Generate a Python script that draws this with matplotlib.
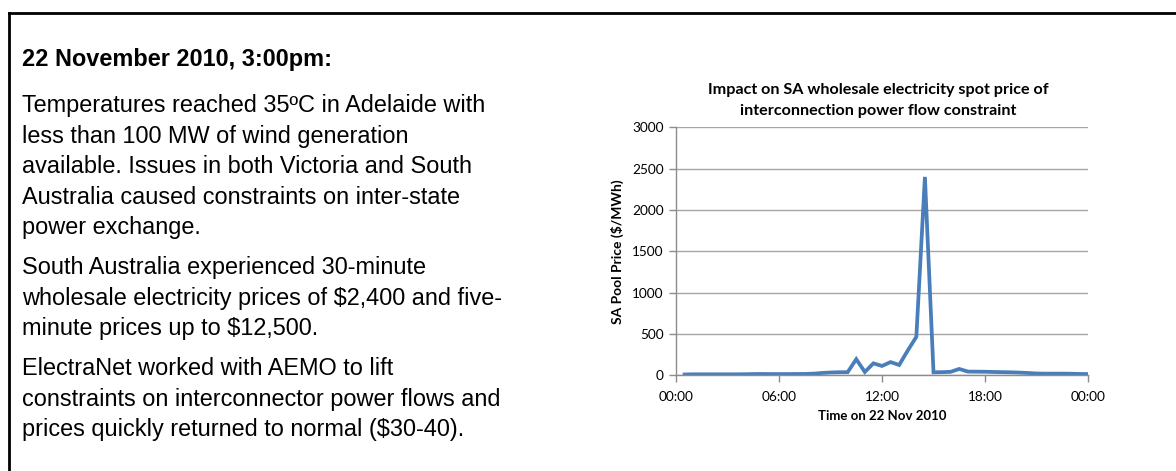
import matplotlib as mpl
mpl.use('Agg')
import matplotlib.pyplot as plt
import matplotlib.dates as mdates
import pandas as pd
from matplotlib.lines import Line2D

W, H = 1176, 471

# half-hourly SA pool price, 22 Nov 2010 ($/MWh), periods ending 00:30 .. 24:00
price = [10, 12, 12, 12, 12, 12, 12, 13, 15, 16, 15, 15,
         15, 16, 16, 20, 28, 34, 37, 38, 195, 40, 145, 113,
         160, 125, 300, 465, 2400, 36, 38, 42, 77, 45, 44, 43,
         40, 38, 36, 33, 28, 22, 20, 20, 20, 19, 16, 15]
times = pd.date_range('2010-11-22 00:30', periods=len(price), freq='30min')

heading = '22 November 2010, 3:00pm:'
paragraphs = [
    ['Temperatures reached 35\u00baC in Adelaide with',
     'less than 100 MW of wind generation',
     'available. Issues in both Victoria and South',
     'Australia caused constraints on inter-state',
     'power exchange.'],
    ['South Australia experienced 30-minute',
     'wholesale electricity prices of $2,400 and five-',
     'minute prices up to $12,500.'],
    ['ElectraNet worked with AEMO to lift',
     'constraints on interconnector power flows and',
     'prices quickly returned to normal ($30-40).'],
]

chart_title = ['Impact on SA wholesale electricity spot price of',
               'interconnection power flow constraint']
y_label = 'SA Pool Price ($/MWh)'
x_label = 'Time on 22 Nov 2010'
y_ticks = [0, 500, 1000, 1500, 2000, 2500, 3000]


def fx(px):
    return px / W


def fy(py):
    return 1 - py / H


fig = plt.figure(figsize=(W / 100, H / 100), dpi=100)
fig.patch.set_facecolor('white')

# box frame (top and left edges)
fig.add_artist(Line2D([fx(9), fx(W)], [fy(13), fy(13)], color='black', lw=2.0))
fig.add_artist(Line2D([fx(9), fx(9)], [fy(13), fy(H)], color='black', lw=2.0))

# left-hand text block
body = dict(family='Liberation Sans', fontsize=16.9, color='black', va='baseline')
fig.text(fx(22), fy(66), heading, fontweight='bold', **body)
y = 112.3
for para in paragraphs:
    for line in para:
        fig.text(fx(22), fy(y), line, **body)
        y += 30.5
    y += 9.5

# price chart
cfont = 'Lato'
ax = fig.add_axes([fx(676), fy(375.3), (1088 - 676) / W, 248 / H])
ax.plot(times, price, color='#4a7ebb', lw=2.7, solid_joinstyle='miter')

ax.set_xlim(pd.Timestamp('2010-11-22 00:00'), pd.Timestamp('2010-11-23 00:00'))
ax.set_ylim(0, 3000)
ax.set_yticks(y_ticks)
ax.xaxis.set_major_locator(mdates.HourLocator(byhour=[0, 6, 12, 18]))
ax.xaxis.set_major_formatter(mdates.DateFormatter('%H:%M'))

ax.grid(axis='y', color='#a6a6a6', lw=1.0)
ax.set_axisbelow(True)
for side in ['top', 'right']:
    ax.spines[side].set_visible(False)
for side in ['left', 'bottom']:
    ax.spines[side].set_color('#8c8c8c')
    ax.spines[side].set_linewidth(1.0)
ax.tick_params(axis='both', colors='#8c8c8c', length=5, width=1.0,
               labelcolor='black', labelsize=9.8)
ax.tick_params(axis='x', pad=6)
ax.tick_params(axis='y', pad=4)
for lbl in ax.get_xticklabels() + ax.get_yticklabels():
    lbl.set_family(cfont)

ax.set_ylabel(y_label, family=cfont, fontsize=10, fontweight='bold', labelpad=6)
ax.set_xlabel(x_label, family=cfont, fontsize=9.5, fontweight='bold', labelpad=5)
for line, base in zip(chart_title, [93.5, 115.5]):
    fig.text(fx(878), fy(base), line, family=cfont, fontsize=11.6,
             fontweight='bold', ha='center', va='baseline')

fig.savefig('out.png', dpi=100, facecolor='white')
